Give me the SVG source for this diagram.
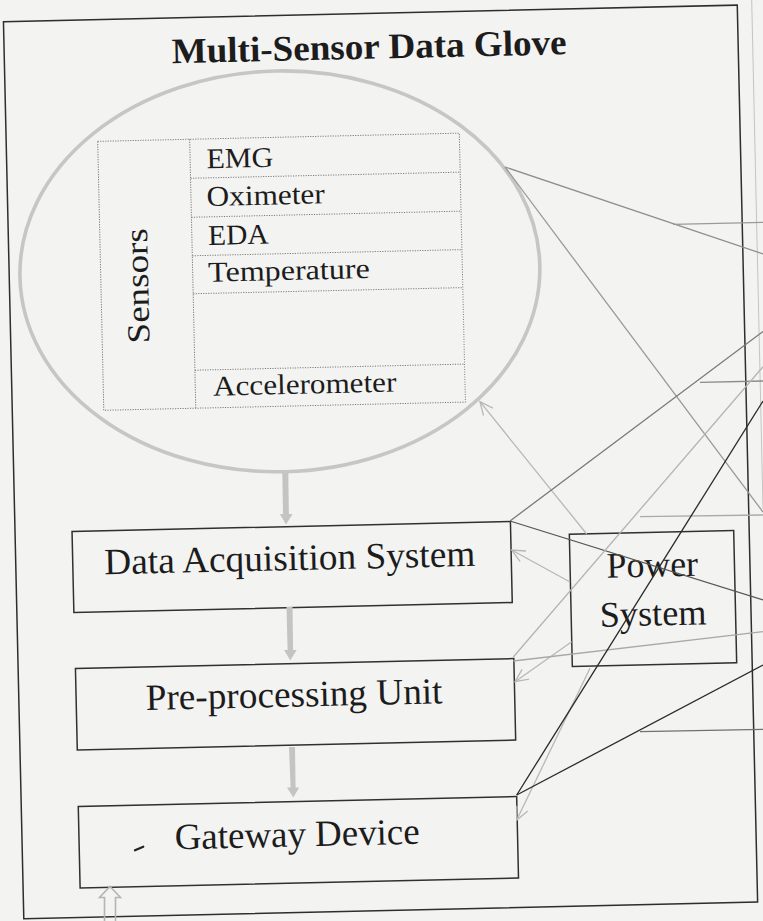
<svg xmlns="http://www.w3.org/2000/svg" width="763" height="921" viewBox="0 0 763 921">
<style>
.frame{fill:none;stroke:#2e2e2e;stroke-width:1.5}
.box{fill:none;stroke:#303030;stroke-width:1.5}
.lbl{font-family:"Liberation Serif","Times New Roman",serif;fill:#1c1c1c}
.big{font-size:37px}
.sm{font-size:28.5px}
.dot{fill:none;stroke:#7c7c7c;stroke-width:1;stroke-dasharray:1.2 1.3}
.ring{fill:none;stroke:#c6c6c6;stroke-width:3.6}
.flow{fill:#c4c4c4}
.hollow{fill:none;stroke:#b5b5b5;stroke-width:1.6}
.pw{fill:none;stroke:#b8b8b8;stroke-width:1.3;marker-end:url(#vhead)}
.ld{fill:none;stroke-width:1.3}
</style>
<defs>
<marker id="vhead" markerUnits="userSpaceOnUse" viewBox="0 0 16 14" markerWidth="16" markerHeight="14" refX="14" refY="7" orient="auto">
<path d="M1,1 L14,7 L1,13" fill="none" stroke="#b8b8b8" stroke-width="1.3"/>
</marker>
</defs>
<rect width="763" height="921" fill="#f3f3f2"/>
<line x1="751.7" y1="0" x2="763" y2="509" stroke="#c4c4c4" stroke-width="1"/>
<g id="glove" transform="rotate(-1.3 381.5 460.5)">
<rect class="frame" x="13.5" y="13.3" width="734" height="897.2"/>
<text id="title" class="lbl" x="378.5" y="58.5" text-anchor="middle" font-size="36" font-weight="bold" textLength="395" lengthAdjust="spacingAndGlyphs">Multi-Sensor Data Glove</text>
<g id="sensors">
<ellipse class="ring" cx="284.2" cy="269.1" rx="260" ry="200.4"/>
<rect class="dot" x="105" y="135" width="361.7" height="269"/>
<line class="dot" x1="197" y1="135" x2="197" y2="404"/>
<line class="dot" x1="197" y1="174" x2="466.7" y2="174"/>
<line class="dot" x1="197" y1="213" x2="466.7" y2="213"/>
<line class="dot" x1="197" y1="251.5" x2="466.7" y2="251.5"/>
<line class="dot" x1="197" y1="289.5" x2="466.7" y2="289.5"/>
<line class="dot" x1="197" y1="366" x2="466.7" y2="366"/>
<text class="lbl" font-size="32" transform="translate(152.3 280.4) rotate(-90)" text-anchor="middle" textLength="115" lengthAdjust="spacingAndGlyphs">Sensors</text>
<text class="lbl sm" x="213.4" y="164.4" textLength="66.7" lengthAdjust="spacingAndGlyphs">EMG</text>
<text class="lbl sm" x="212.5" y="202.1" textLength="118.3" lengthAdjust="spacingAndGlyphs">Oximeter</text>
<text class="lbl sm" x="213.2" y="241.1" textLength="60.7" lengthAdjust="spacingAndGlyphs">EDA</text>
<text class="lbl sm" x="212.4" y="277.8" textLength="161.7" lengthAdjust="spacingAndGlyphs">Temperature</text>
<text class="lbl sm" x="214.8" y="391.9" textLength="183.3" lengthAdjust="spacingAndGlyphs">Accelerometer</text>
</g>
<g id="das">
<rect class="box" x="70.5" y="524.5" width="438.5" height="81"/>
<text class="lbl big" x="287.6" y="568" text-anchor="middle" textLength="371" lengthAdjust="spacingAndGlyphs">Data Acquisition System</text>
</g>
<g id="preprocessing">
<rect class="box" x="70.8" y="661.5" width="438.5" height="81.5"/>
<text class="lbl big" x="288.8" y="704.6" text-anchor="middle" textLength="296.8" lengthAdjust="spacingAndGlyphs">Pre-processing Unit</text>
</g>
<g id="gateway">
<rect class="box" x="70.5" y="799.5" width="438.5" height="81.5"/>
<text class="lbl big" x="288.7" y="844.5" text-anchor="middle" textLength="245" lengthAdjust="spacingAndGlyphs">Gateway Device</text>
<path d="M126.2,844.6 L134.6,841.2" stroke="#222" stroke-width="2.2" stroke-linecap="round" fill="none"/>
</g>
<g id="power">
<rect class="box" x="567.6" y="538.5" width="164.4" height="132.2"/>
<text class="lbl" font-size="36" x="649.8" y="582.8" text-anchor="middle" textLength="91.6" lengthAdjust="spacingAndGlyphs">Power</text>
<text class="lbl" font-size="36" x="649.5" y="631.6" text-anchor="middle" textLength="106.7" lengthAdjust="spacingAndGlyphs">System</text>
</g>
</g>
<g id="connectors">
<polygon class="flow" points="282.3,473 288.3,473 288.9,514 292.6,514 286,524.5 279.8,514 283,514"/>
<polygon class="flow" points="286.5,607 292.5,607 293.1,650 296.7,650 290.3,660.5 284,650 287.6,650"/>
<polygon class="flow" points="289,747 295,747 295.6,787.5 299.2,787.5 293.3,797.5 287,787.5 290.6,787.5"/>
<path class="hollow" d="M110,886.5 L120.5,897.5 L115.5,897.5 L115.5,925 L104.5,925 L104.5,897.5 L99.5,897.5 Z"/>
<line class="pw" x1="586.7" y1="534" x2="480" y2="401.7"/>
<line class="pw" x1="570" y1="582" x2="511.7" y2="550"/>
<line class="pw" x1="571.7" y1="641.7" x2="515" y2="681.7"/>
<line class="pw" x1="590" y1="668.3" x2="516.7" y2="820"/>
<line class="ld" stroke="#8e8e8e" x1="505" y1="167" x2="763" y2="254"/>
<line class="ld" stroke="#9a9a9a" x1="505" y1="167" x2="763" y2="512"/>
<line class="ld" stroke="#9a9a9a" x1="673" y1="224.3" x2="763" y2="222.3"/>
<line class="ld" stroke="#8a8a8a" x1="700" y1="382.3" x2="763" y2="381"/>
<line class="ld" stroke="#7a7a7a" x1="510" y1="521" x2="763" y2="331.5"/>
<line class="ld" stroke="#aaaaaa" x1="640" y1="516.7" x2="763" y2="515"/>
<line class="ld" stroke="#555555" x1="510" y1="521" x2="763" y2="600"/>
<line class="ld" stroke="#b3b3b3" x1="513.3" y1="657" x2="763" y2="366.7"/>
<line class="ld" stroke="#a8a8a8" x1="513.3" y1="661" x2="763" y2="631.7"/>
<line class="ld" stroke="#2a2a2a" x1="516.7" y1="795" x2="763" y2="401"/>
<line class="ld" stroke="#2a2a2a" x1="516.7" y1="795" x2="763" y2="665"/>
<line class="ld" stroke="#707070" x1="640" y1="731.7" x2="763" y2="729.3"/>
</g>
</svg>
